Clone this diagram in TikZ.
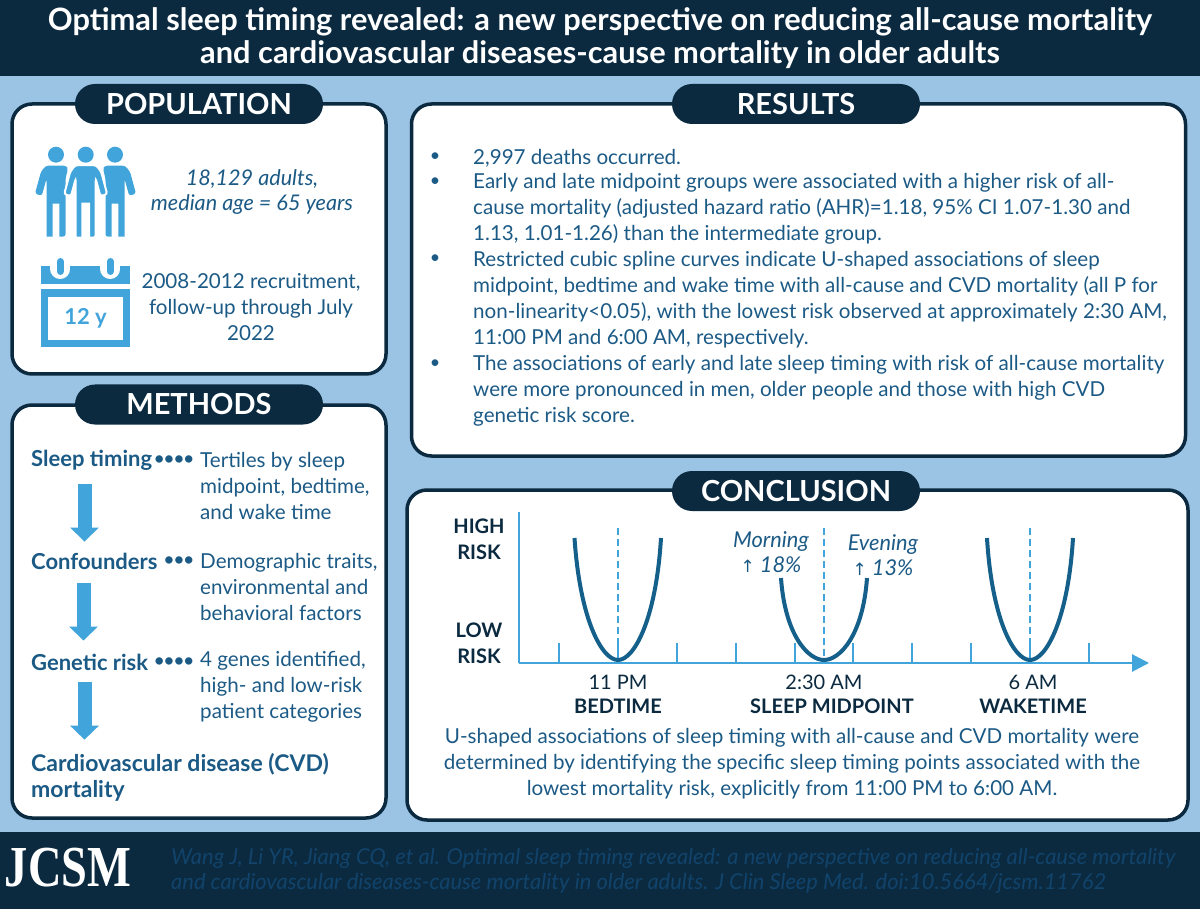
\documentclass[tikz,border=0pt]{standalone}
\usepackage{fontspec}
\setmainfont{Lato}
\newfontfamily\arrowfont{DejaVu Sans}
\newfontfamily\logofont{Liberation Serif}
\usetikzlibrary{positioning,calc,arrows.meta,shapes.misc}
\definecolor{paneblue}{HTML}{9AC3E4}
\definecolor{navy}{HTML}{0B2A40}
\definecolor{inkblue}{HTML}{1C5A86}
\definecolor{iconblue}{HTML}{41A5DB}
\definecolor{curveblue}{HTML}{15608A}
\definecolor{citeblue}{HTML}{11436B}

\begin{document}
\begin{tikzpicture}[x=1pt,y=-1pt,
				card/.style={draw=navy,line width=3.5pt,fill=white,rounded corners=20pt,outer sep=0pt,inner sep=0pt},
				pill/.style={rounded rectangle,fill=navy,text=white,minimum width=248pt,minimum height=40pt,inner sep=0pt,font=\fontsize{29}{32}\selectfont\bfseries},
				body/.style={text=inkblue,inner sep=0pt,align=left,font=\fontsize{20.6}{25.8}\selectfont},
				bodyc/.style={body,align=center},
				lead/.style={body,font=\fontsize{22}{25.4}\selectfont\bfseries},
				dotrow/.style={text=inkblue,inner sep=0pt,font=\fontsize{17}{17}\selectfont\bfseries},
				bullet/.style={text=inkblue,inner sep=0pt,font=\fontsize{18}{18}\selectfont},
				risk/.style={text=navy,inner sep=0pt,align=center,font=\fontsize{20}{26}\selectfont\bfseries},
				hour/.style={text=navy,inner sep=0pt,font=\fontsize{20}{24}\selectfont},
				sleeplabel/.style={text=navy,inner sep=0pt,font=\fontsize{20}{24}\selectfont\bfseries},
				note/.style={text=inkblue,inner sep=0pt,align=center,font=\fontsize{21.8}{25}\selectfont\itshape},
				flowarrow/.style={-{Triangle[width=28pt,length=14pt]},iconblue,line width=14pt},
				axisline/.style={iconblue,line width=2.8pt},
				midline/.style={iconblue,line width=1.5pt,dash pattern=on 7pt off 4pt},
				ucurve/.style={curveblue,line width=4pt},
				sideman/.pic={
					\fill[iconblue] (0,0) circle (8pt);
					\fill[iconblue,rounded corners=2.5pt] (-9.5,82) -- (-9.5,24) -- (-14.2,41) -- (-21,39) -- (-15,17) -- (-10,11) -- (10,11) -- (12,14) -- (9.5,24) -- (9.5,82) [sharp corners] -- (3.3,82) -- (3.3,49) -- (-3.3,49) -- (-3.3,82) -- cycle;
				},
				midman/.pic={
					\fill[iconblue] (0,0) circle (8pt);
					\filldraw[fill=iconblue,draw=white,line width=2pt,rounded corners=2.5pt] (-10,83) -- (-10,24) -- (-14.7,41.5) -- (-21.5,39.5) -- (-15.5,17) -- (-10.5,10.5) -- (10.5,10.5) -- (15.5,17) -- (21.5,39.5) -- (14.7,41.5) -- (10,24) -- (10,83) [sharp corners] -- (3.3,83) -- (3.3,49) -- (-3.3,49) -- (-3.3,83) -- cycle;
				}]
	\useasboundingbox (0,0) rectangle (1200,909);
	\fill[paneblue] (0,0) rectangle (1200,909);

	% title and footer bands
	\fill[navy] (0,0) rectangle (1200,76);
	\fill[navy] (0,832) rectangle (1200,909);
	\node (TITLE) [text=white,align=center,inner sep=0pt,font=\fontsize{30.8}{33}\selectfont\bfseries] at (600,38.5)
		{Optimal sleep timing revealed: a new perspective on reducing all-cause mortality\\
		 and cardiovascular diseases-cause mortality in older adults};
	\node (LOGO) [text=white,inner sep=0pt,font=\fontsize{58}{58}\selectfont\logofont\bfseries] at (68,868) {\scalebox{0.8}[1]{JCSM}};
	\node (CITE) [text=citeblue,anchor=west,inner sep=0pt,align=left,font=\fontsize{21.9}{25}\selectfont\itshape] at (171,870.5)
		{Wang J, Li YR, Jiang CQ, et al. Optimal sleep timing revealed: a new perspective on reducing all-cause mortality\\
		 and cardiovascular diseases-cause mortality in older adults. J Clin Sleep Med. doi:10.5664/jcsm.11762};

	% the four cards
	\node (POPCARD)  [card,minimum width=374pt,minimum height=270pt] at (199,239) {};
	\node (METHCARD) [card,minimum width=374pt,minimum height=413pt] at (199,611.5) {};
	\node (RESCARD)  [card,minimum width=774pt,minimum height=352pt] at (798.5,280) {};
	\node (CONCARD)  [card,minimum width=781pt,minimum height=330pt] at (797.5,655) {};
	\node (POPPILL)  [pill] at (199,104)   {POPULATION};
	\node (METHPILL) [pill] at (199,404.5) {METHODS};
	\node (RESPILL)  [pill] at (796,104)   {RESULTS};
	\node (CONPILL)  [pill] at (796,491)   {CONCLUSION};

	% population
	\path (56,154.7)   pic {sideman};
	\path (115,154.7)  pic[xscale=-1] {sideman};
	\path (85.7,154.7) pic {midman};
	\fill[iconblue] (40.7,266) rectangle (130,284);
	\fill[iconblue] (40.7,289) rectangle (130,347);
	\fill[white] (48.3,297) rectangle (122.7,340);
	\draw[white,line width=20pt,line cap=round] (60.3,255) -- (60.3,269) (110.3,255) -- (110.3,269);
	\draw[iconblue,line width=7pt,line cap=round] (60.3,261.5) -- (60.3,271.5) (110.3,261.5) -- (110.3,271.5);
	\node (SPAN)   [text=iconblue,inner sep=0pt,font=\fontsize{22}{24}\selectfont\bfseries] at (85.5,318) {12 y};
	\node (ADULTS) [bodyc,font=\fontsize{21.6}{25.8}\selectfont\itshape] at (252,192) {18,129 adults,\\median age = 65 years};
	\node (RECRUIT) [bodyc] at (251,307) {2008-2012 recruitment,\\follow-up through July\\2022};

	% methods
	\node (SLEEP)    [lead,anchor=west] at (31,460) {Sleep timing};
	\node (CONF)     [lead,anchor=west] at (31,561) {Confounders};
	\node (GENE)     [lead,anchor=west] at (31,662) {Genetic risk};
	\node (CVD)      [lead,anchor=west,font=\fontsize{23}{25.4}\selectfont\bfseries] at (31,777.5) {Cardiovascular disease (CVD)\\mortality};
	\node (DOTSA)    [dotrow,anchor=east] at (194,460) {••••};
	\node (DOTSB)    [dotrow,anchor=east] at (194,561) {•••};
	\node (DOTSC)    [dotrow,anchor=east] at (194,662) {••••};
	\node (TERTILES) [body,anchor=west] at (200,486) {Tertiles by sleep\\midpoint, bedtime,\\and wake time};
	\node (TRAITS)   [body,anchor=west] at (200,587) {Demographic traits,\\environmental and\\behavioral factors};
	\node (GENES)    [body,anchor=west] at (200,687) {4 genes identified,\\high- and low-risk\\patient categories};
	\draw[flowarrow,shorten <=14pt,shorten >=11pt] ([xshift=53.5pt]SLEEP.south west) -- ([xshift=53.5pt]CONF.north west);
	\draw[flowarrow,shorten <=14pt,shorten >=13pt] ([xshift=52.5pt]CONF.south west) -- ([xshift=52.5pt]GENE.north west);
	\draw[flowarrow,shorten <=12pt,shorten >=14pt] ([xshift=53.5pt]GENE.south west) -- ([xshift=53.5pt]CVD.north west);

	% results
	\node (BULA) [bullet] at (435,157)   {•};
	\node (BULB) [bullet] at (435,182.5) {•};
	\node (BULC) [bullet] at (435,259.5) {•};
	\node (BULD) [bullet] at (435,364)   {•};
	\node (RESA) [body,anchor=west] at (473,158) {2,997 deaths occurred.};
	\node (RESB) [body,anchor=west] at (473,208.5) {Early and late midpoint groups were associated with a higher risk of all-\\
		cause mortality (adjusted hazard ratio (AHR)=1.18, 95\% CI 1.07-1.30 and\\
		1.13, 1.01-1.26) than the intermediate group.};
	\node (RESC) [body,anchor=west] at (473,299.5) {Restricted cubic spline curves indicate U-shaped associations of sleep\\
		midpoint, bedtime and wake time with all-cause and CVD mortality (all P for\\
		non-linearity<0.05), with the lowest risk observed at approximately 2:30 AM,\\
		11:00 PM and 6:00 AM, respectively.};
	\node (RESD) [body,anchor=west] at (473,391) {The associations of early and late sleep timing with risk of all-cause mortality\\
		were more pronounced in men, older people and those with high CVD\\
		genetic risk score.};

	% conclusion chart
	\coordinate (YTOP)   at (519,512);
	\coordinate (ORIGIN) at (519,663);
	\coordinate (XEND)   at (1149,663);
	\draw[axisline] (YTOP) -- (ORIGIN);
	\draw[axisline,-{Triangle[width=17pt,length=17pt]}] (ORIGIN) -- (XEND);
	\draw[axisline] (559,643) -- (559,663) (618,643) -- (618,663) (677,643) -- (677,663) (736,643) -- (736,663)
		(795,643) -- (795,663) (853,643) -- (853,663) (912,643) -- (912,663) (971,643) -- (971,663)
		(1030,643) -- (1030,663) (1089,643) -- (1089,663);
	\draw[midline] (618,528) -- (618,660);
	\draw[midline] (824,528) -- (824,660);
	\draw[midline] (1030,528) -- (1030,660);
	\draw[ucurve] (574.5,538) .. controls (580,620) and (602,660) .. (618,660) .. controls (634,660) and (656,620) .. (661,538);
	\draw[ucurve] (781,578) .. controls (785,635) and (808,660) .. (824,660) .. controls (840,660) and (863,635) .. (867,578);
	\draw[ucurve] (987,538) .. controls (992,620) and (1014,660) .. (1030,660) .. controls (1046,660) and (1068,620) .. (1073,538);
	\node (HIGH) [risk] at (479,539) {HIGH\\RISK};
	\node (LOW)  [risk] at (479,643) {LOW\\RISK};
	\node (MORN) [note] at (771,552.5) {Morning\\{\arrowfont\upshape\fontsize{17}{17}\selectfont ↑} 18\%};
	\node (EVEN) [note] at (883,555.5) {Evening\\{\arrowfont\upshape\fontsize{17}{17}\selectfont ↑} 13\%};
	\node (BEDH)  [hour] at (618,682)  {11 PM};
	\node (MIDH)  [hour] at (824,682)  {2:30 AM};
	\node (WAKEH) [hour] at (1033,682) {6 AM};
	\node (BED)   [sleeplabel] at (618,706)  {BEDTIME};
	\node (MID)   [sleeplabel] at (832,706)  {SLEEP MIDPOINT};
	\node (WAKE)  [sleeplabel] at (1033,706) {WAKETIME};
	\node (CONTEXT) [bodyc] at (792,763.5) {U-shaped associations of sleep timing with all-cause and CVD mortality were\\
		determined by identifying the specific sleep timing points associated with the\\
		lowest mortality risk, explicitly from 11:00 PM to 6:00 AM.};
\end{tikzpicture}
\end{document}
